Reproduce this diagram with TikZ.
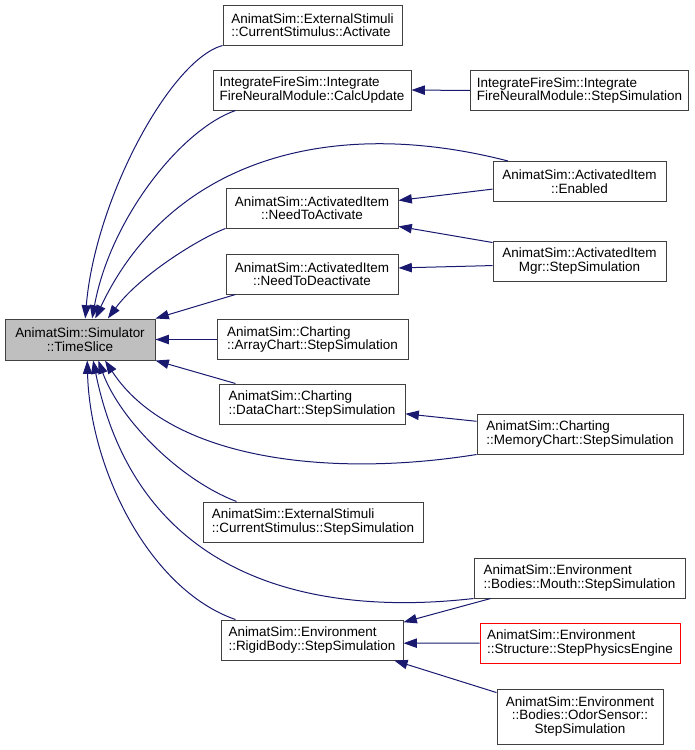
\documentclass[tikz,border=0pt]{standalone}
\usepackage{fontspec}
\setmainfont{Liberation Sans}
\usetikzlibrary{arrows.meta}
\definecolor{edgeblue}{HTML}{191970}
\tikzset{
  fn/.style={draw=black!75, line width=0.75pt, minimum height=30pt, inner sep=0pt,
    font=\fontsize{10.1}{10.2}\selectfont, align=center},
  call/.style={draw=edgeblue, line width=0.75pt, -{Triangle[length=10pt,width=7pt]}},
}
\begin{document}
\begin{tikzpicture}[x=0.75pt, y=-0.75pt]
    \useasboundingbox (0,0) rectangle (695,750);

    % Callee
    \node[fn, fill=black!25, minimum width=112.5pt, minimum height=30.75pt] (sim) at (80,339.5) {AnimatSim::Simulator\\::TimeSlice};

    % Direct callers
    \node[fn, align=left, minimum width=134.25pt] (act) at (312.5,25) {AnimatSim::ExternalStimuli\\::CurrentStimulus::Activate};
    \node[fn, align=left, minimum width=148.5pt] (calc) at (312,90) {IntegrateFireSim::Integrate\\FireNeuralModule::CalcUpdate};
    \node[fn, minimum width=129pt] (needact) at (312,208) {AnimatSim::ActivatedItem\\::NeedToActivate};
    \node[fn, minimum width=129pt] (needdeact) at (312,274) {AnimatSim::ActivatedItem\\::NeedToDeactivate};
    \node[fn, align=left, minimum width=143.25pt] (array) at (312.5,339.5) {AnimatSim::Charting\\::ArrayChart::StepSimulation};
    \node[fn, align=left, minimum width=139.5pt] (data) at (312,404) {AnimatSim::Charting\\::DataChart::StepSimulation};
    \node[fn, align=left, minimum width=165pt] (csstep) at (313,522) {AnimatSim::ExternalStimuli\\::CurrentStimulus::StepSimulation};
    \node[fn, align=left, minimum width=136.5pt] (rigid) at (312,640) {AnimatSim::Environment\\::RigidBody::StepSimulation};

    % Second level
    \node[fn, align=left, minimum width=163.5pt] (ifstep) at (579.5,90.5) {IntegrateFireSim::Integrate\\FireNeuralModule::StepSimulation};
    \node[fn, minimum width=129.75pt] (enab) at (579.5,181.5) {AnimatSim::ActivatedItem\\::Enabled};
    \node[fn, minimum width=129.75pt] (aimgr) at (579.5,261) {AnimatSim::ActivatedItem\\Mgr::StepSimulation};
    \node[fn, align=left, minimum width=154.5pt] (memory) at (580,434) {AnimatSim::Charting\\::MemoryChart::StepSimulation};
    \node[fn, align=left, minimum width=158.25pt] (mouth) at (579.5,578) {AnimatSim::Environment\\::Bodies::Mouth::StepSimulation};
    \node[fn, align=left, draw=red, minimum width=150pt] (physics) at (580,643) {AnimatSim::Environment\\::Structure::StepPhysicsEngine};
    \node[fn, minimum width=124.5pt, minimum height=41.25pt] (odor) at (580,716.5) {AnimatSim::Environment\\::Bodies::OdorSensor::\\StepSimulation};

    % Calls into TimeSlice
    \draw[call] (act.south west) .. controls (170,60) and (95,200) .. (sim.76);
    \draw[call] (calc.195) .. controls (180,130) and (110,220) .. (sim.60);
    \draw[call] (enab.164) .. controls (330,115) and (170,160) .. (sim.54);
    \draw[call] (needact.south west) .. controls (200,238) and (140,275) .. (sim.37);
    \draw[call] (needdeact.195) -- (sim.north east);
    \draw[call] (array.west) -- (sim.east);
    \draw[call] (data.165) -- (sim.south east);
    \draw[call] (memory.south west) .. controls (330,478) and (170,460) .. (sim.320);
    \draw[call] (csstep.165) .. controls (180,480) and (120,420) .. (sim.311);
    \draw[call] (mouth.south west) .. controls (330,615) and (140,590) .. (sim.302);
    \draw[call] (rigid.165) .. controls (150,590) and (90,470) .. (sim.289);

    % Calls into the callers
    \draw[call] (ifstep.west) -- (calc.east);
    \draw[call] (enab.185) -- (needact.5);
    \draw[call] (aimgr.168) -- (needact.348);
    \draw[call] (aimgr.183) -- (needdeact.4);
    \draw[call] (memory.173) -- (data.354);
    \draw[call] (mouth.193) -- (rigid.11);
    \draw[call] (physics.west) -- (rigid.358);
    \draw[call] (odor.164) -- (rigid.346);
\end{tikzpicture}
\end{document}
